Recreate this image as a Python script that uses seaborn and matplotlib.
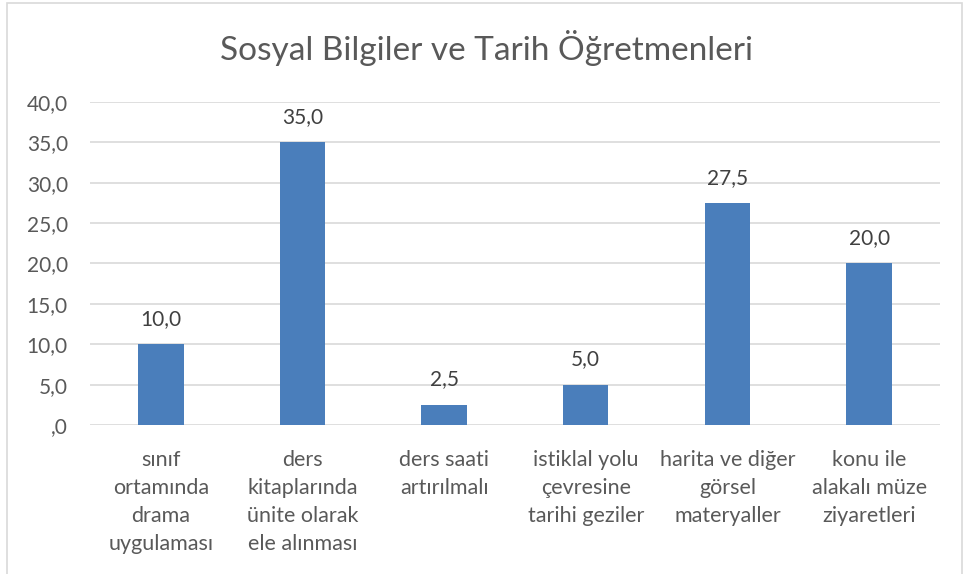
import matplotlib
matplotlib.use("Agg")
import matplotlib.pyplot as plt
from matplotlib.patches import Rectangle
import seaborn as sns
import pandas as pd

categories = [
    "sınıf\nortamında\ndrama\nuygulaması",
    "ders\nkitaplarında\nünite olarak\nele alınması",
    "ders saati\nartırılmalı",
    "istiklal yolu\nçevresine\ntarihi geziler",
    "harita ve diğer\ngörsel\nmateryaller",
    "konu ile\nalakalı müze\nziyaretleri",
]
values = [10.0, 35.0, 2.5, 5.0, 27.5, 20.0]
yticks = [0, 5, 10, 15, 20, 25, 30, 35, 40]
ytick_labels = [",0", "5,0", "10,0", "15,0", "20,0", "25,0", "30,0", "35,0", "40,0"]
title = "Sosyal Bilgiler ve Tarih Öğretmenleri"

sns.set_style("white")
plt.rcParams["font.family"] = ["Lato", "DejaVu Sans"]

text_col = "#595959"
bar_col = "#4A7EBB"

df = pd.DataFrame({"kategori": categories, "deger": values})

fig = plt.figure(figsize=(9.64, 5.74), dpi=100)
ax = fig.add_axes([0.0934, 0.2596, 0.8816, 0.5627])

sns.barplot(data=df, x="kategori", y="deger", color=bar_col, width=0.32,
            saturation=1, ax=ax, zorder=3, linewidth=0)

ax.set_ylim(0, 40)
ax.set_yticks(yticks)
ax.set_yticklabels(ytick_labels, fontsize=15, color=text_col)
ax.set_xticks(range(len(categories)))
ax.set_xticklabels(categories, fontsize=15.5, color=text_col, linespacing=1.5,
                   va="top")
ax.tick_params(axis="both", length=0)
ax.tick_params(axis="y", pad=16)
ax.tick_params(axis="x", pad=18)
ax.set_xlabel("")
ax.set_ylabel("")
ax.grid(axis="y", color="#D9D9D9", linewidth=1.2, zorder=0)
for s in ax.spines.values():
    s.set_visible(False)

for i, v in enumerate(values):
    ax.annotate(f"{v:.1f}".replace(".", ","), (i, v), xytext=(0, 11),
                textcoords="offset points", ha="center", va="bottom",
                fontsize=15, color="#404040")

fig.text(0.505, 0.916, title, ha="center", va="center", fontsize=24,
         color=text_col)

fig.add_artist(Rectangle((7 / 964, -0.01), 955 / 964, 1 - 3 / 574 + 0.01,
                         transform=fig.transFigure, fill=False,
                         edgecolor="#D9D9D9", linewidth=1.2))

fig.savefig("out.png", dpi=100, facecolor="white")
